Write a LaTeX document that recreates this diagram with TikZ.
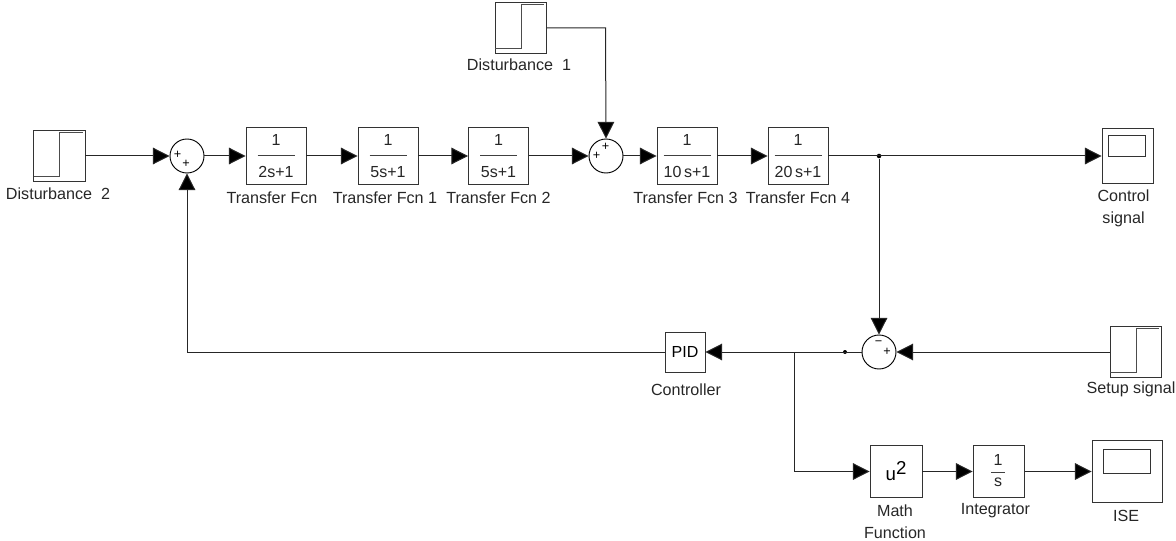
\documentclass[tikz,border=0pt]{standalone}
\usepackage{fontspec}
\setmainfont{Liberation Sans}
\usetikzlibrary{arrows.meta}
\definecolor{wire}{gray}{0.15}
\definecolor{edge}{gray}{0.2}
\tikzset{
  blockbox/.style={draw=edge,line width=0.7pt,fill=white,inner sep=0pt,anchor=center},
  sumnode/.style={circle,draw=black,line width=0.7pt,fill=white,minimum size=25.5pt,inner sep=0pt},
  lab/.style={font=\fontsize{12.1pt}{14pt}\selectfont,inner sep=0pt,text=black!85,align=center},
  sign/.style={font=\fontsize{9.5pt}{9.5pt}\selectfont,inner sep=0pt,text=black},
  sig/.style={draw=wire,line width=0.75pt,-{Triangle[length=12.5pt,width=12.5pt,fill=black]}},
  junction/.style={circle,fill=black,inner sep=0pt,minimum size=3.4pt},
  fracrule/.style={draw=black!75,line width=0.75pt},
  stepline/.style={draw=black!70,line width=0.7pt},
  tfnum/.style={font=\fontsize{12pt}{14pt}\selectfont,inner sep=0pt,text=black!85}
}
\newcommand{\blk}[6]{% name, x1, y1, x2, y2, text
  \pgfmathsetmacro{\bw}{((#4)-(#2))*0.75}
  \pgfmathsetmacro{\bh}{((#5)-(#3))*0.75}
  \node[blockbox,minimum width=\bw pt,minimum height=\bh pt] (#1) at ({((#2)+(#4))/2},{((#3)+(#5))/2}) {#6};}
\newcommand{\tfblk}[4]{% name, x1, denominator, rule half width
  \pgfmathsetmacro{\tfc}{#2+30}
  \blk{#1}{#2}{127}{#2+60}{184.5}{}
  \node[tfnum] (#1n) at (\tfc,140) {1};
  \node[tfnum] (#1d) at (\tfc,172) {#3};
  \draw[fracrule] (\tfc-#4,156) -- (\tfc+#4,156);}
\newcommand{\stepblk}[3]{% name, x1, y1
  \blk{#1}{#2}{#3}{#2+51.5}{#3+51}{}
  \draw[stepline] (#2,#3+46) -- (#2+26,#3+46) -- (#2+26,#3+2.5) -- (#2+49,#3+2.5);}
\newcommand{\scopeblk}[9]{% name, x1,y1,x2,y2, sx1,sy1,sx2,sy2
  \blk{#1}{#2}{#3}{#4}{#5}{}
  \draw[draw=edge,line width=0.7pt] (#6,#7) rectangle (#8,#9);}
\begin{document}
\begin{tikzpicture}[x=0.75pt,y=-0.75pt]
\useasboundingbox (0,0) rectangle (1176,541);
% step sources
\stepblk{dtwo}{33.5}{130}
\stepblk{done}{495}{2}
\stepblk{setup}{1110}{326}
% sums
\node[sumnode] (sone) at (187,156) {};
\node[sumnode] (stwo) at (606,156) {};
\node[sumnode] (sthree) at (879,352) {};
\node[sign] (sonea) at (177.5,155) {+};
\node[sign] (soneb) at (186,164) {+};
\node[sign] (stwoa) at (596.5,156) {+};
\node[sign] (stwob) at (605.5,147) {+};
\node[sign] (sthreea) at (878.5,343.5) {−};
\node[sign] (sthreeb) at (887,352) {+};
% transfer functions
\tfblk{tfa}{246}{2s+1}{18.5}
\tfblk{tfb}{358}{5s+1}{18.5}
\tfblk{tfc}{468.5}{5s+1}{18.5}
\tfblk{tfd}{657}{10\,s+1}{23.5}
\tfblk{tfe}{768}{20\,s+1}{23.5}
% scopes
\scopeblk{ctrl}{1102}{128}{1153}{183}{1108}{135}{1145}{156}
\scopeblk{ise}{1092}{440}{1162}{502}{1103}{449}{1150}{473}
% lower blocks
\blk{pid}{665}{332}{705}{372}{\fontsize{12pt}{14pt}\selectfont PID}
\blk{math}{870}{445}{922}{497}{\fontsize{14pt}{16pt}\selectfont u\raisebox{4.5pt}{2}}
\blk{intg}{973}{445}{1024.5}{497}{}
\node[tfnum] (intn) at (998,460) {1};
\node[tfnum] (intd) at (998,482) {s};
\draw[fracrule] (991,472) -- (1005,472);
% helper points
\coordinate (jout) at (879,156);
\coordinate (jcorn) at (605.5,28);
\coordinate (jbr) at (794,352);
\coordinate (jbrd) at (794,471.5);
\coordinate (jfb) at (187,352);
\node[junction] (jdot) at (jout) {};
\node[junction,minimum size=3pt] (jsmall) at (845,352) {};
% connectors
\draw[sig] (dtwo.east |- sone) -- (sone.west);
\draw[sig] (sone.east) -- (tfa.west |- sone);
\draw[sig] (tfa.east |- sone) -- (tfb.west |- sone);
\draw[sig] (tfb.east |- sone) -- (tfc.west |- sone);
\draw[sig] (tfc.east |- sone) -- (stwo.west);
\draw[sig] (stwo.east) -- (tfd.west |- stwo);
\draw[sig] (tfd.east |- stwo) -- (tfe.west |- stwo);
\draw[sig] (tfe.east |- jout) -- (ctrl.west |- jout);
\draw[sig] (done.east |- jcorn) -- (jcorn) -- (stwo.north);
\draw[sig] (jdot) -- (sthree.north);
\draw[sig] (setup.west |- sthree) -- (sthree.east);
\draw[sig] (sthree.west) -- (pid.east |- sthree);
\draw[sig] (pid.west |- sthree) -- (jfb) -- (sone.south);
\draw[sig] (jbr) -- (jbrd) -- (math.west |- jbrd);
\draw[sig] (math.east |- jbrd) -- (intg.west |- jbrd);
\draw[sig] (intg.east |- jbrd) -- (ise.west |- jbrd);
% labels
\node[lab] (ldtwo) at (58,193.5) {Disturbance\ \ 2};
\node[lab] (ldone) at (519,65) {Disturbance\ \ 1};
\node[lab] (lsetup) at (1131,389) {Setup signal};
\node[lab] (ltfa) at (272,198) {Transfer Fcn};
\node[lab] (ltfb) at (385,198) {Transfer Fcn 1};
\node[lab] (ltfc) at (498.5,198) {Transfer Fcn 2};
\node[lab] (ltfd) at (685.5,198) {Transfer Fcn 3};
\node[lab] (ltfe) at (798,198) {Transfer Fcn 4};
\node[lab] (lctrl) at (1123.5,196) {Control};
\node[lab] (lctrlb) at (1123.5,219.5) {signal};
\node[lab] (lpid) at (686,390) {Controller};
\node[lab] (lmath) at (895,511) {Math};
\node[lab] (lmathb) at (895,533) {Function};
\node[lab] (lintg) at (995.5,511) {Integrator};
\node[lab] (lise) at (1126,516) {ISE};
\end{tikzpicture}
\end{document}
